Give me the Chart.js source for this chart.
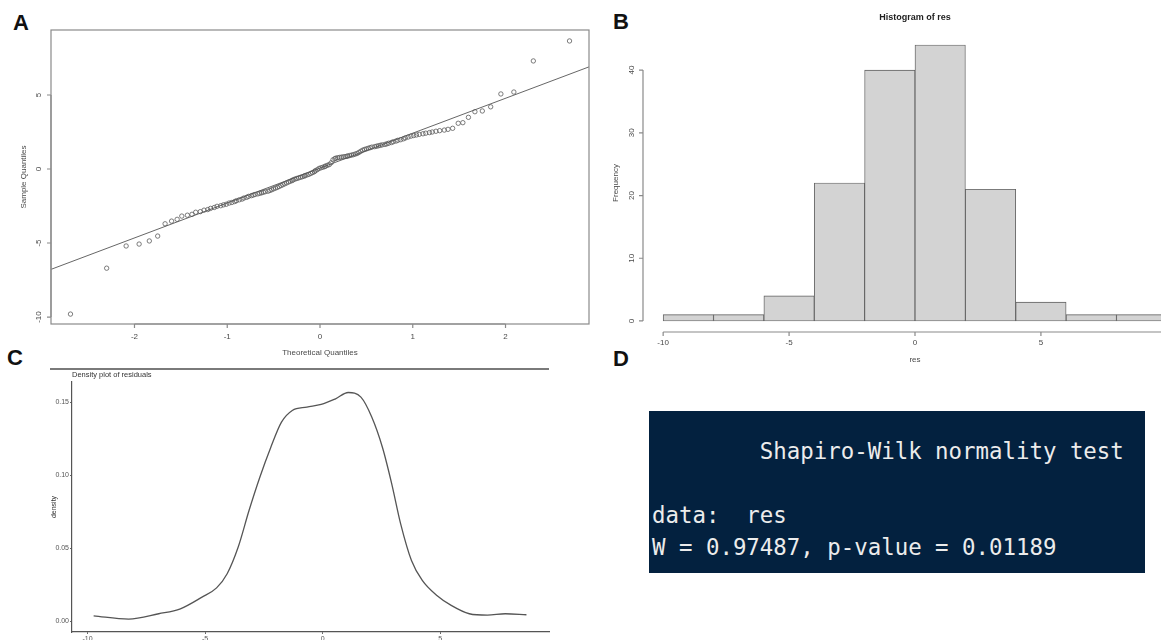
<!DOCTYPE html>
<html>
<head>
<meta charset="utf-8">
<title>Residual diagnostics</title>
<script src="https://cdn.jsdelivr.net/npm/chart.js@4.4.1/dist/chart.umd.min.js"></script>
<style>
  body { margin:0; width:1161px; height:640px; overflow:hidden; background:#fff; position:relative; font-family:"Liberation Sans", Arial, sans-serif; }
  canvas { position:absolute; }
  .tag { position:absolute; font:bold 22px/22px "Liberation Sans", Arial, sans-serif; color:#111; }
  .rule { position:absolute; left:50px; top:368px; width:499px; height:1.5px; background:#7a7a7a; }
  #shapiro { position:absolute; left:649px; top:411px; width:496px; height:162px; background:#03213f; }
  #shapiro div { position:absolute; left:3px; white-space:pre; font:22.4px/32px "DejaVu Sans Mono", monospace; color:#ececec; }
</style>
</head>
<body>

<div class="tag" style="left:13px;top:12px">A</div>
<div class="tag" style="left:613px;top:11px">B</div>
<div class="tag" style="left:7px;top:347px">C</div>
<div class="tag" style="left:613px;top:348px">D</div>

<canvas id="qqChart" width="600" height="360" style="left:0;top:0"></canvas>
<canvas id="histChart" width="600" height="370" style="left:600px;top:0"></canvas>
<div class="rule"></div>
<canvas id="densChart" width="560" height="280" style="left:0;top:360px"></canvas>

<div id="shapiro">
  <div style="top:24px">        Shapiro-Wilk normality test</div>
  <div style="top:88px">data:  res</div>
  <div style="top:120px">W = 0.97487, p-value = 0.01189</div>
</div>

<script>
// normal Q-Q plot of the residuals
var qqTheoretical = [-2.69,-2.30,-2.09,-1.95,-1.84,-1.75,-1.67,-1.60,-1.54,-1.49,-1.43,-1.38,-1.34,-1.29,-1.25,-1.21,-1.18,-1.14,-1.11,-1.07,
	-1.04,-1.01,-0.98,-0.95,-0.92,-0.90,-0.87,-0.84,-0.82,-0.79,-0.77,-0.74,-0.72,-0.70,-0.67,-0.65,-0.63,-0.61,-0.59,-0.56,
	-0.54,-0.52,-0.50,-0.48,-0.46,-0.44,-0.42,-0.40,-0.38,-0.36,-0.34,-0.32,-0.30,-0.29,-0.27,-0.25,-0.23,-0.21,-0.19,-0.17,
	-0.16,-0.14,-0.12,-0.10,-0.08,-0.06,-0.05,-0.03,-0.01,
	0.01,0.03,0.05,0.06,0.08,0.10,0.12,0.14,0.16,0.17,0.19,0.21,0.23,0.25,0.27,0.29,0.30,0.32,0.34,0.36,
	0.38,0.40,0.42,0.44,0.46,0.48,0.50,0.52,0.54,0.56,0.59,0.61,0.63,0.65,0.67,0.70,0.72,0.74,0.77,0.79,
	0.82,0.84,0.87,0.90,0.92,0.95,0.98,1.01,1.04,1.07,1.11,1.14,1.18,1.21,1.25,1.29,1.34,1.38,1.43,1.49,
	1.54,1.60,1.67,1.75,1.84,1.95,2.09,2.30,2.69];
var qqSample = [-9.80,-6.70,-5.20,-5.07,-4.86,-4.53,
	-3.70,-3.52,-3.40,-3.18,-3.12,-3.06,-2.92,-2.88,
	-2.78,-2.74,-2.66,-2.60,-2.52,-2.48,-2.42,-2.38,-2.30,-2.26,-2.20,-2.14,-2.08,-2.03,
	-1.96,-1.91,-1.85,-1.80,-1.76,-1.72,-1.68,-1.64,-1.61,-1.57,-1.53,-1.50,-1.45,-1.40,-1.34,-1.29,-1.24,-1.18,-1.12,-1.06,
	-1.00,-0.94,-0.88,-0.83,-0.78,-0.73,-0.68,-0.64,-0.60,-0.56,-0.52,-0.48,-0.44,-0.40,-0.36,-0.30,-0.24,-0.18,-0.11,-0.05,
	0.04,0.08,0.12,0.16,0.20,0.25,0.30,0.42,0.62,0.70,0.73,0.76,0.78,0.80,0.82,0.84,0.86,0.88,0.91,0.94,0.97,1.01,
	1.05,1.12,1.20,1.27,1.32,1.36,1.40,1.44,1.48,1.51,1.54,1.57,1.60,1.63,1.66,1.70,1.74,1.79,1.84,1.89,1.94,1.98,
	2.04,2.10,2.16,2.22,2.26,2.30,2.34,2.38,2.42,2.46,2.50,2.55,2.59,2.63,2.68,2.75,3.09,3.13,3.49,3.87,3.92,
	4.20,5.07,5.20,7.30,8.65];
var qqLineX = [-2.9, 2.9];
var qqLineY = [-6.78, 6.90];
var qqXTicks = [-2, -1, 0, 1, 2];
var qqYTicks = [-10, -5, 0, 5];

// histogram of the residuals
var histBreaks = [-10, -8, -6, -4, -2, 0, 2, 4, 6, 8, 10];
var histCounts = [1, 1, 4, 22, 40, 44, 21, 3, 1, 1];
var histXTicks = [-10, -5, 0, 5, 10];
var histYTicks = [0, 10, 20, 30, 40];

// kernel density of the residuals
var densX = [-9.74,-8.25,-6.97,-6.05,-5.13,-4.51,-4.06,-3.59,-3.13,-2.67,-2.21,-1.75,-1.29,-0.67,-0.06,
	0.55,1.09,1.63,2.09,2.55,2.94,3.32,3.78,4.24,4.86,5.47,6.24,7.01,7.77,8.67];
var densY = [0.0039,0.0016,0.0053,0.0087,0.0167,0.0230,0.0327,0.0510,0.0760,0.0988,0.1190,0.1365,0.1445,0.1468,0.1486,
	0.1525,0.1568,0.1536,0.1400,0.1190,0.0943,0.0669,0.0418,0.0281,0.0178,0.0110,0.0053,0.0043,0.0053,0.0046];
var densXTicks = [-10, -5, 0, 5];
var densYTicks = [0, 0.05, 0.10, 0.15];

var sFont = '"Liberation Sans", Arial, sans-serif';
Chart.defaults.font.family = sFont;
Chart.defaults.animation = false;
Chart.defaults.responsive = false;
Chart.defaults.plugins.legend.display = false;
Chart.defaults.plugins.tooltip.enabled = false;

function fixTicks(aVals) {
	return function(scale) { scale.ticks = aVals.map(function(v){ return {value: v}; }); };
}

// base-graphics style axes: line between outer ticks, ticks outside, rotated y labels
var baseAxes = {
	id: 'baseAxes',
	afterDraw: function(chart, args, o) {
		if (!o.xTicks) { return; }
		var ctx = chart.ctx, a = chart.chartArea;
		var sx = chart.scales.x, sy = chart.scales.y;
		var xp = o.xTicks.map(function(v){ return sx.getPixelForValue(v); });
		var yp = o.yTicks.map(function(v){ return sy.getPixelForValue(v); });
		ctx.save();
		ctx.strokeStyle = '#8a8a8a';
		ctx.lineWidth = 1.2;
		if (o.box) { ctx.strokeRect(a.left, a.top, a.right - a.left, a.bottom - a.top); }
		ctx.beginPath();
		ctx.moveTo(xp[0], a.bottom); ctx.lineTo(xp[xp.length - 1], a.bottom);
		xp.forEach(function(p){ ctx.moveTo(p, a.bottom); ctx.lineTo(p, a.bottom + 4); });
		ctx.moveTo(a.left, yp[0]); ctx.lineTo(a.left, yp[yp.length - 1]);
		yp.forEach(function(p){ ctx.moveTo(a.left, p); ctx.lineTo(a.left - 4, p); });
		ctx.stroke();

		ctx.fillStyle = '#4a4a4a';
		ctx.font = '8px ' + sFont;
		ctx.textAlign = 'center';
		ctx.textBaseline = 'middle';
		xp.forEach(function(p, i){ ctx.fillText(String(o.xTicks[i]), p, a.bottom + o.xLab); });
		yp.forEach(function(p, i){
			ctx.save();
			ctx.translate(a.left - o.yLab, p);
			ctx.rotate(-Math.PI / 2);
			ctx.fillText(String(o.yTicks[i]), 0, 0);
			ctx.restore();
		});
		ctx.fillText(o.xTitle, (a.left + a.right) / 2, a.bottom + o.xTitleGap);
		ctx.save();
		ctx.translate(a.left - o.yTitleGap, (a.top + a.bottom) / 2);
		ctx.rotate(-Math.PI / 2);
		ctx.fillText(o.yTitle, 0, 0);
		ctx.restore();
		if (o.title) {
			ctx.fillStyle = '#222';
			ctx.font = 'bold 9px ' + sFont;
			ctx.fillText(o.title, (a.left + a.right) / 2, o.titleY);
		}
		ctx.restore();
	}
};

// ggplot-like title and y title for the density panel
var ggTitles = {
	id: 'ggTitles',
	afterDraw: function(chart, args, o) {
		if (!o.title) { return; }
		var ctx = chart.ctx, a = chart.chartArea;
		ctx.save();
		ctx.fillStyle = '#333';
		ctx.font = '7.5px ' + sFont;
		ctx.textBaseline = 'middle';
		ctx.textAlign = 'left';
		ctx.fillText(o.title, a.left, a.top - 7.5);
		ctx.textAlign = 'center';
		ctx.font = '7px ' + sFont;
		ctx.translate(a.left - 18, (a.top + a.bottom) / 2);
		ctx.rotate(-Math.PI / 2);
		ctx.fillText(o.yTitle, 0, 0);
		ctx.restore();
	}
};

Chart.register(baseAxes, ggTitles);

function hiddenAxis(nMin, nMax, aTicks, fnFit) {
	return {
		type: 'linear', min: nMin, max: nMax, offset: false,
		afterBuildTicks: fixTicks(aTicks),
		afterFit: fnFit,
		grid: {display: false, offset: false}, border: {display: false}, ticks: {display: false}
	};
}

// panel A
var qqPoints = qqTheoretical.map(function(x, i){ return {x: x, y: qqSample[i]}; });
var qqLine = qqLineX.map(function(x, i){ return {x: x, y: qqLineY[i]}; });

new Chart(document.getElementById('qqChart'), {
	type: 'scatter',
	data: {
		datasets: [
			{data: qqLine, showLine: true, borderColor: '#555', borderWidth: 0.9, pointRadius: 0},
			{data: qqPoints, pointStyle: 'circle', pointRadius: 2.2, pointBorderWidth: 0.8,
				pointBackgroundColor: 'rgba(0,0,0,0)', pointBorderColor: '#5c5c5c'}
		]
	},
	options: {
		layout: {padding: {left: 0, top: 30, right: 11, bottom: 0}},
		scales: {
			x: hiddenAxis(-2.9, 2.9, qqXTicks, function(s){ s.height = 36; }),
			y: hiddenAxis(-10.47, 9.39, qqYTicks, function(s){ s.width = 51; })
		},
		plugins: {
			baseAxes: {box: true, xTicks: qqXTicks, yTicks: qqYTicks, xLab: 13, yLab: 12,
				xTitle: 'Theoretical Quantiles', xTitleGap: 29, yTitle: 'Sample Quantiles', yTitleGap: 27}
		}
	}
});

// panel B
var histBars = histCounts.map(function(c, i){
	return {x: (histBreaks[i] + histBreaks[i + 1]) / 2, y: c};
});

new Chart(document.getElementById('histChart'), {
	type: 'bar',
	data: {
		datasets: [{
			data: histBars, backgroundColor: '#d3d3d3', borderColor: '#5e5e5e', borderWidth: 0.9,
			borderSkipped: false, barPercentage: 1, categoryPercentage: 1
		}]
	},
	options: {
		layout: {padding: {left: 0, top: 34, right: 13, bottom: 0}},
		scales: {
			x: hiddenAxis(-10.8, 10.8, histXTicks, function(s){ s.height = 38; }),
			y: hiddenAxis(-1.76, 45.76, histYTicks, function(s){ s.width = 43; })
		},
		plugins: {
			baseAxes: {box: false, xTicks: histXTicks, yTicks: histYTicks, xLab: 11, yLab: 11,
				xTitle: 'res', xTitleGap: 28, yTitle: 'Frequency', yTitleGap: 27,
				title: 'Histogram of res', titleY: 18}
		}
	}
});

// panel C
var densPoints = densX.map(function(x, i){ return {x: x, y: densY[i]}; });

function ggAxis(nMin, nMax, aTicks, fnFit, fnLabel) {
	return {
		type: 'linear', min: nMin, max: nMax,
		afterBuildTicks: fixTicks(aTicks),
		afterFit: fnFit,
		grid: {display: true, drawOnChartArea: false, drawTicks: true, tickLength: 2, color: '#666', lineWidth: 1},
		border: {display: true, color: '#555', width: 1.2},
		ticks: {font: {size: 7}, color: '#555', padding: 1, maxRotation: 0, callback: fnLabel}
	};
}

new Chart(document.getElementById('densChart'), {
	type: 'line',
	data: {
		datasets: [{
			data: densPoints, borderColor: '#555', borderWidth: 1.3, pointRadius: 0,
			cubicInterpolationMode: 'monotone', fill: false
		}]
	},
	options: {
		layout: {padding: {left: 0, top: 22, right: 11, bottom: 0}},
		scales: {
			x: ggAxis(-10.66, 9.63, densXTicks, function(s){ s.height = 8; }, function(v){ return String(v); }),
			y: ggAxis(-0.0072, 0.164, densYTicks, function(s){ s.width = 72; }, function(v){ return v.toFixed(2); })
		},
		plugins: {
			ggTitles: {title: 'Density plot of residuals', yTitle: 'density'}
		}
	}
});
</script>
</body>
</html>
